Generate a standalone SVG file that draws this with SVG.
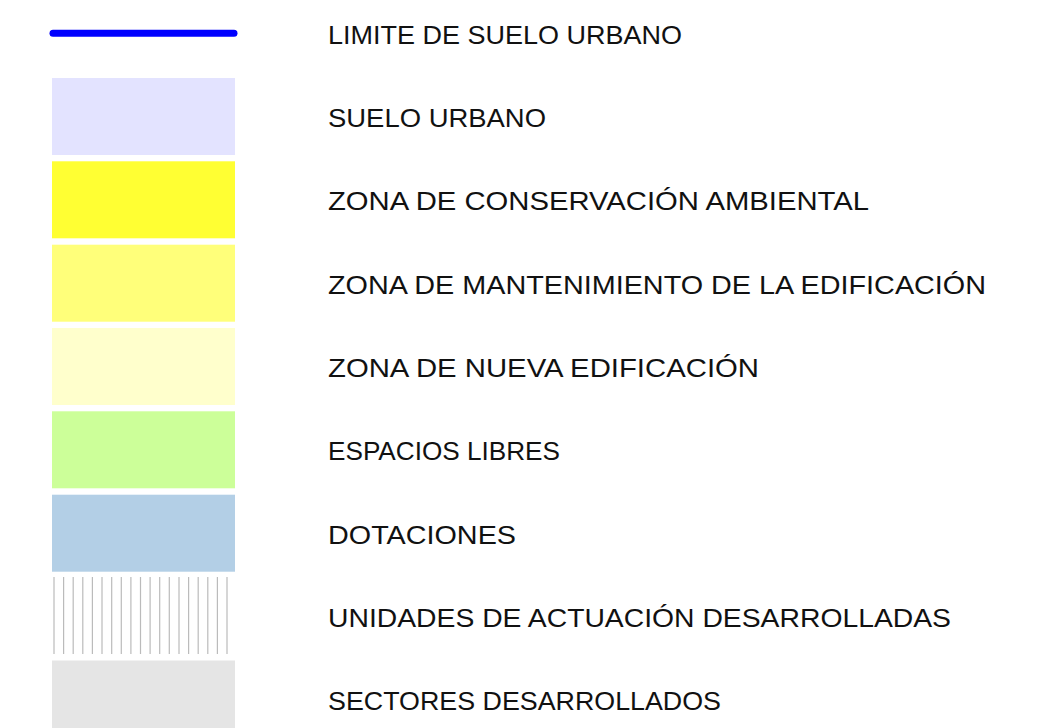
<svg xmlns="http://www.w3.org/2000/svg" width="1057" height="728" viewBox="0 0 1057 728">
<style>
text{font-family:"Liberation Sans","DejaVu Sans",sans-serif;font-size:26.5px;fill:#111;}
.h{stroke:#bbbbbb;stroke-width:1.2;}
</style>
<rect width="1057" height="728" fill="#ffffff"/>
<g id="limite"><line x1="53" y1="33.3" x2="234" y2="33.3" stroke="#0000ff" stroke-width="7" stroke-linecap="round"/><text x="328" y="43.5" textLength="354" lengthAdjust="spacingAndGlyphs">LIMITE DE SUELO URBANO</text></g>
<g id="suelo-urbano"><rect x="52" y="78" width="183" height="77" fill="#e3e3ff"/><text x="328" y="126.8" textLength="218" lengthAdjust="spacingAndGlyphs">SUELO URBANO</text></g>
<g id="conservacion"><rect x="52" y="161.3" width="183" height="77" fill="#ffff33"/><text x="328" y="210.2" textLength="541" lengthAdjust="spacingAndGlyphs">ZONA DE CONSERVACIÓN AMBIENTAL</text></g>
<g id="mantenimiento"><rect x="52" y="244.7" width="183" height="77" fill="#ffff7a"/><text x="328" y="293.5" textLength="658" lengthAdjust="spacingAndGlyphs">ZONA DE MANTENIMIENTO DE LA EDIFICACIÓN</text></g>
<g id="nueva"><rect x="52" y="328" width="183" height="77" fill="#ffffcc"/><text x="328" y="376.8" textLength="431" lengthAdjust="spacingAndGlyphs">ZONA DE NUEVA EDIFICACIÓN</text></g>
<g id="espacios"><rect x="52" y="411.3" width="183" height="77" fill="#ccff99"/><text x="328" y="460.2" textLength="232" lengthAdjust="spacingAndGlyphs">ESPACIOS LIBRES</text></g>
<g id="dotaciones"><rect x="52" y="494.7" width="183" height="77" fill="#b3cfe6"/><text x="328" y="543.5" textLength="188" lengthAdjust="spacingAndGlyphs">DOTACIONES</text></g>
<g id="unidades">
<g class="h">
<line x1="54" y1="577" x2="54" y2="654"/><line x1="63.6" y1="577" x2="63.6" y2="654"/><line x1="73.2" y1="577" x2="73.2" y2="654"/><line x1="82.8" y1="577" x2="82.8" y2="654"/><line x1="92.4" y1="577" x2="92.4" y2="654"/><line x1="102" y1="577" x2="102" y2="654"/><line x1="111.7" y1="577" x2="111.7" y2="654"/><line x1="121.3" y1="577" x2="121.3" y2="654"/><line x1="130.9" y1="577" x2="130.9" y2="654"/><line x1="140.5" y1="577" x2="140.5" y2="654"/><line x1="150.1" y1="577" x2="150.1" y2="654"/><line x1="159.7" y1="577" x2="159.7" y2="654"/><line x1="169.3" y1="577" x2="169.3" y2="654"/><line x1="179" y1="577" x2="179" y2="654"/><line x1="188.6" y1="577" x2="188.6" y2="654"/><line x1="198.2" y1="577" x2="198.2" y2="654"/><line x1="207.8" y1="577" x2="207.8" y2="654"/><line x1="217.4" y1="577" x2="217.4" y2="654"/><line x1="227" y1="577" x2="227" y2="654"/>
</g>
<text x="328" y="626.8" textLength="623" lengthAdjust="spacingAndGlyphs">UNIDADES DE ACTUACIÓN DESARROLLADAS</text></g>
<g id="sectores"><rect x="52" y="660.5" width="183" height="70" fill="#e5e5e5"/><text x="328" y="710.2" textLength="393" lengthAdjust="spacingAndGlyphs">SECTORES DESARROLLADOS</text></g>
</svg>
